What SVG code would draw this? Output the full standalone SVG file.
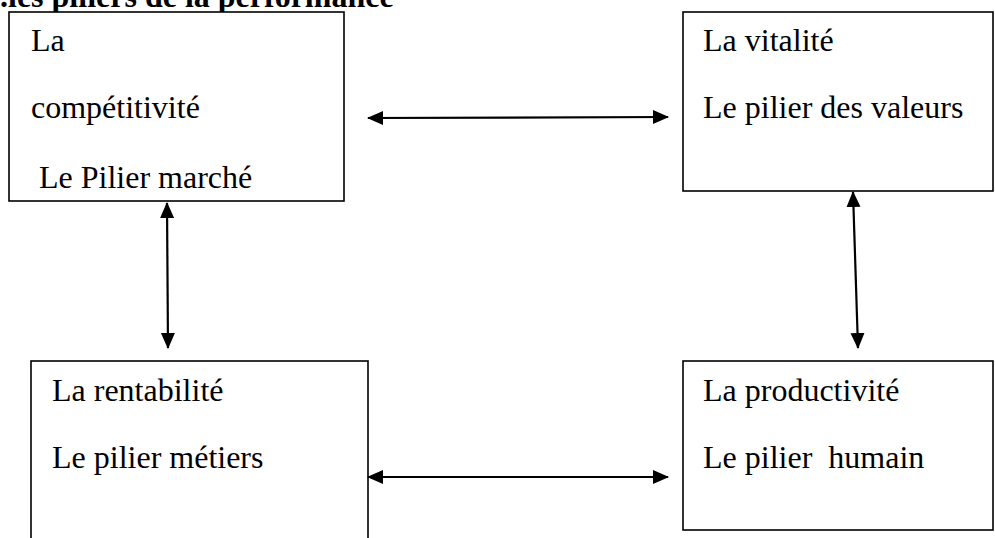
<svg xmlns="http://www.w3.org/2000/svg" width="995" height="538" viewBox="0 0 995 538">
<style>
.box{fill:#fff;stroke:#000;stroke-width:1.6}
.t{font-size:32px;fill:#000}
.title{font-size:32px;font-weight:bold;fill:#000}
.c{stroke:#000;stroke-width:2.2;fill:none;marker-start:url(#a);marker-end:url(#a)}
</style>
<defs>
<marker id="a" markerUnits="userSpaceOnUse" markerWidth="16" markerHeight="16" viewBox="0 0 16 16" refX="15" refY="8" orient="auto-start-reverse">
<path d="M0,1 L16,8 L0,15 Z" fill="#000"/>
</marker>
</defs>
<rect width="995" height="538" fill="#fff"/>
<g font-family="'Liberation Serif', 'Times New Roman', 'DejaVu Serif', serif">
<text class="title" x="0" y="7">.les piliers de la performance</text>
<g id="n1">
<rect class="box" x="9" y="12" width="335" height="189"/>
<text class="t" x="31" y="51">La</text>
<text class="t" x="31" y="118">compétitivité</text>
<text class="t" x="39" y="188">Le Pilier marché</text>
</g>
<g id="n2">
<rect class="box" x="683" y="12" width="310" height="179"/>
<text class="t" x="703" y="51">La vitalité</text>
<text class="t" x="703" y="118">Le pilier des valeurs</text>
</g>
<g id="n3">
<rect class="box" x="31" y="361" width="337" height="190"/>
<text class="t" x="52" y="401">La rentabilité</text>
<text class="t" x="52" y="468">Le pilier métiers</text>
</g>
<g id="n4">
<rect class="box" x="683" y="361" width="310" height="169"/>
<text class="t" x="703" y="401">La productivité</text>
<text class="t" x="703" y="468" xml:space="preserve">Le pilier  humain</text>
</g>
</g>
<g id="connectors">
<line class="c" x1="368" y1="118" x2="668" y2="117"/>
<line class="c" x1="167" y1="203" x2="168" y2="348"/>
<line class="c" x1="853" y1="192" x2="858" y2="348"/>
<line class="c" x1="368" y1="477" x2="668" y2="477"/>
</g>
</svg>
